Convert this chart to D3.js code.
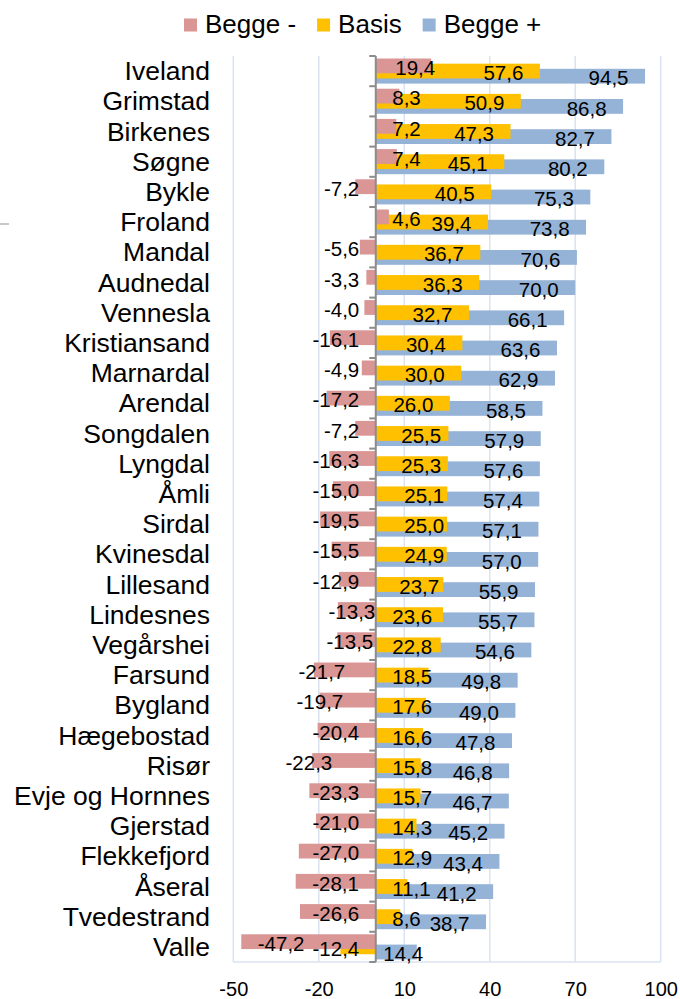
<!DOCTYPE html>
<html>
<head>
<meta charset="utf-8">
<script src="https://cdn.jsdelivr.net/npm/d3@7"></script>
<style>
  html, body { margin: 0; padding: 0; background: #fff; }
  svg { display: block; font-family: "Liberation Sans", Arial, Helvetica, sans-serif; }
</style>
</head>
<body>
<svg id="chart" width="680" height="999"></svg>
<script>
// Municipalities, top to bottom
const categories = ["Iveland", "Grimstad", "Birkenes", "Søgne", "Bykle", "Froland", "Mandal",
  "Audnedal", "Vennesla", "Kristiansand", "Marnardal", "Arendal", "Songdalen", "Lyngdal",
  "Åmli", "Sirdal", "Kvinesdal", "Lillesand", "Lindesnes", "Vegårshei", "Farsund", "Bygland",
  "Hægebostad", "Risør", "Evje og Hornnes", "Gjerstad", "Flekkefjord", "Åseral", "Tvedestrand", "Valle"];

const seriesNames = ["Begge -", "Basis", "Begge +"];

const beggeMinus = [19.4, 8.3, 7.2, 7.4, -7.2, 4.6, -5.6, -3.3, -4.0, -16.1, -4.9, -17.2, -7.2,
  -16.3, -15.0, -19.5, -15.5, -12.9, -13.3, -13.5, -21.7, -19.7, -20.4, -22.3, -23.3, -21.0,
  -27.0, -28.1, -26.6, -47.2];

const basis = [57.6, 50.9, 47.3, 45.1, 40.5, 39.4, 36.7, 36.3, 32.7, 30.4, 30.0, 26.0, 25.5,
  25.3, 25.1, 25.0, 24.9, 23.7, 23.6, 22.8, 18.5, 17.6, 16.6, 15.8, 15.7, 14.3, 12.9, 11.1,
  8.6, -12.4];

const beggePlus = [94.5, 86.8, 82.7, 80.2, 75.3, 73.8, 70.6, 70.0, 66.1, 63.6, 62.9, 58.5, 57.9,
  57.6, 57.4, 57.1, 57.0, 55.9, 55.7, 54.6, 49.8, 49.0, 47.8, 46.8, 46.7, 45.2, 43.4, 41.2,
  38.7, 14.4];

const xTicks = [-50, -20, 10, 40, 70, 100];

// Layout and styling
const colors = { "Begge -": "#D99694", "Basis": "#FFC000", "Begge +": "#95B3D7" };
const valuesBySeries = { "Begge -": beggeMinus, "Basis": basis, "Begge +": beggePlus };

// Hand-placed label adjustments (pixels along x)
const labelNudge = {
  "Begge -": { "Iveland": 3, "Lindesnes": 16, "Vegårshei": 14, "Farsund": -14, "Bygland": -16, "Risør": -27 },
  "Basis": { "Songdalen": 9, "Lyngdal": 9, "Åmli": 12, "Sirdal": 12, "Kvinesdal": 12, "Lillesand": 7 },
  "Begge +": { "Valle": -9 }
};

const fmt = v => v.toFixed(1).replace(".", ",");

const svg = d3.select("#chart");

const x = d3.scaleLinear().domain([-50, 100]).range([233.3, 660.7]);
const y = d3.scaleBand().domain(categories).range([56, 962]).padding(0);
const bw = y.bandwidth();
const barH = bw * 0.49;
const sub = d3.scalePoint().domain(seriesNames).range([bw * 0.083, bw * 0.424]);
const x0 = x(0);

// vertical gridlines
svg.append("g").selectAll("line").data(xTicks).join("line")
  .attr("x1", d => x(d)).attr("x2", d => x(d))
  .attr("y1", y.range()[0]).attr("y2", y.range()[1])
  .attr("stroke", "#DAE3F1").attr("stroke-width", 1.5);

// bottom edge of the plot area
svg.append("line")
  .attr("x1", x(-50)).attr("x2", x(100))
  .attr("y1", y.range()[1]).attr("y2", y.range()[1])
  .attr("stroke", "#DAE3F1").attr("stroke-width", 1.5);

// stray mark at the left margin
svg.append("line")
  .attr("x1", 0).attr("x2", 9).attr("y1", 224).attr("y2", 224)
  .attr("stroke", "#A6A6A6").attr("stroke-width", 1.2);

// bars: last series drawn first so the first series sits on top
const rows = [];
seriesNames.forEach(s => {
  valuesBySeries[s].forEach((v, i) => rows.push({ s, cat: categories[i], v }));
});
const drawOrder = seriesNames.slice().reverse();
const barRows = drawOrder.flatMap(s => rows.filter(r => r.s === s));

svg.append("g").selectAll("rect").data(barRows).join("rect")
  .attr("x", d => Math.min(x(d.v), x0))
  .attr("width", d => Math.abs(x(d.v) - x0))
  .attr("y", d => y(d.cat) + sub(d.s))
  .attr("height", barH)
  .attr("fill", d => colors[d.s]);

// category axis at zero
const axisG = svg.append("g");
axisG.append("line")
  .attr("x1", x0).attr("x2", x0)
  .attr("y1", y.range()[0]).attr("y2", y.range()[1])
  .attr("stroke", "#8C8C8C").attr("stroke-width", 2);
const bounds = categories.map(c => y(c)).concat([y.range()[1]]);
axisG.selectAll("line.tick").data(bounds).join("line")
  .attr("class", "tick")
  .attr("x1", x0 - 6.5).attr("x2", x0)
  .attr("y1", d => d).attr("y2", d => d)
  .attr("stroke", "#8C8C8C").attr("stroke-width", 2);

// category labels
svg.append("g").selectAll("text").data(categories).join("text")
  .attr("x", 210)
  .attr("y", d => y(d) + bw / 2 + 9)
  .attr("text-anchor", "end")
  .attr("font-size", 26.5)
  .attr("fill", "#000")
  .text(d => d);

// value labels: inside the bar end, kept clear of the zero axis
const pad = 16.5;
const labels = svg.append("g").selectAll("text").data(rows).join("text")
  .attr("font-size", 20.5)
  .attr("fill", "#000")
  .attr("y", d => y(d.cat) + sub(d.s) + barH / 2 + 9.2)
  .text(d => fmt(d.v));

labels.each(function (d) {
  const w = this.getComputedTextLength();
  const nudge = (labelNudge[d.s] && labelNudge[d.s][d.cat]) || 0;
  let left;
  if (d.v >= 0) {
    const right = Math.max(x(d.v) - pad, x0 + pad + w);
    left = right - w;
  } else {
    left = Math.min(x(d.v) + pad, x0 - pad - w);
  }
  d3.select(this).attr("x", left + nudge).attr("text-anchor", "start");
});

// value axis labels
const xAxis = d3.axisBottom(x).tickValues(xTicks).tickSize(0).tickPadding(20)
  .tickFormat(d => String(d));
const xg = svg.append("g").attr("transform", `translate(0,${y.range()[1]})`).call(xAxis);
xg.select(".domain").remove();
xg.selectAll("text")
  .attr("font-size", 20)
  .attr("font-family", '"Liberation Sans", Arial, Helvetica, sans-serif')
  .attr("fill", "#000");

// legend
const legend = svg.append("g");
let lx = 184;
seriesNames.forEach(s => {
  legend.append("rect").attr("x", lx).attr("y", 18.5).attr("width", 13).attr("height", 13)
    .attr("fill", colors[s]);
  const t = legend.append("text").attr("x", lx + 21).attr("y", 33)
    .attr("font-size", 26).attr("fill", "#000").text(s);
  lx += 21 + t.node().getComputedTextLength() + 21;
});
</script>
</body>
</html>
